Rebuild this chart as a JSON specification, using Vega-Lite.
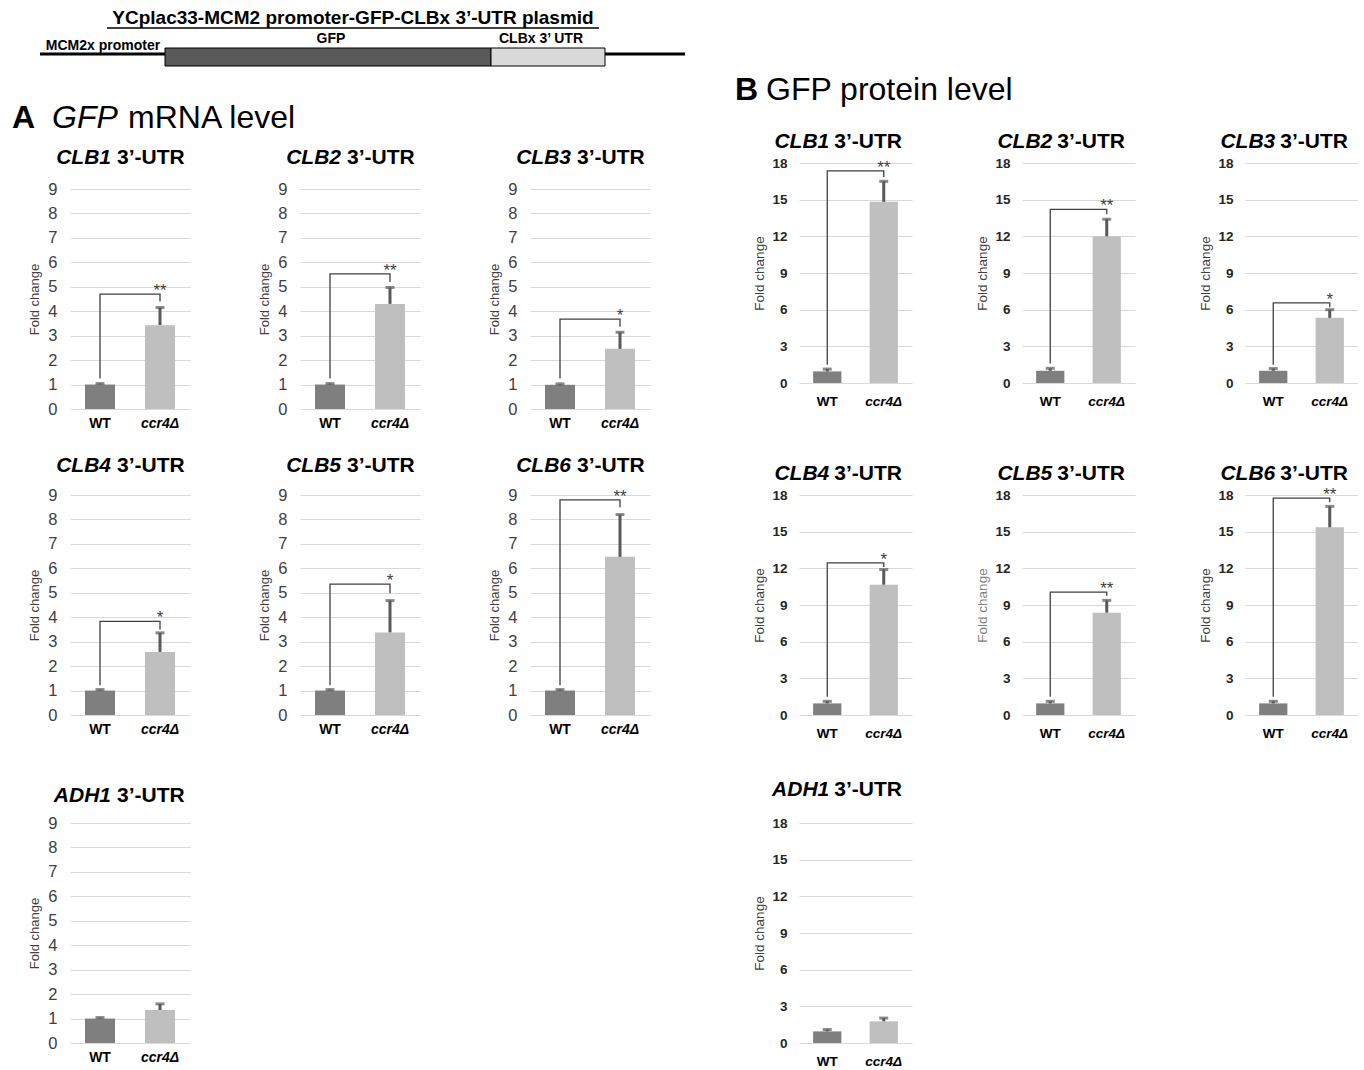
{
  "$schema": "https://vega.github.io/schema/vega-lite/v6.json",
  "padding": {"left": 12, "top": 0, "right": 0, "bottom": 0},
  "background": "white",
  "config": {
    "font": "Liberation Sans",
    "view": {"stroke": null},
    "axis": {"domain": false, "ticks": false},
    "axisX": {"grid": false, "labelAngle": 0, "labelFontWeight": "bold", "labelColor": "#000000", "labelFontSize": 14, "labelPadding": 7},
    "axisY": {"grid": true, "gridColor": "#d9d9d9", "gridWidth": 1, "titleFontWeight": "normal", "titleColor": "#404040", "labelColor": "#404040", "labelFontSize": 16.5, "labelPadding": 13, "titleFontSize": 13, "titlePadding": 6, "tickCount": 30, "labelOverlap": false, "format": "d"},
    "rule": {"color": "#595959", "strokeWidth": 3},
    "tick": {"color": "#595959", "thickness": 3, "size": 9},
    "line": {"color": "#404040", "strokeWidth": 1.3}
  },
  "columns": 6,
  "spacing": {"row": 86, "column": 110},
  "bounds": "flush",
  "concat": [
    {
      "width": 120,
      "height": 77,
      "data": {"values": [
        {"kind": "backbone", "start": 0, "end": 645},
        {"kind": "box", "part": "GFP", "start": 125, "end": 451, "mid": 291},
        {"kind": "box", "part": "CLBx 3’ UTR", "start": 451, "end": 565, "mid": 501},
        {"kind": "promoter", "part": "MCM2x promoter", "start": 0, "end": 125, "mid": 63},
        {"kind": "plasmid", "name": "YCplac33-MCM2 promoter-GFP-CLBx 3’-UTR plasmid"},
        {"kind": "header", "lead": "A", "gene": "GFP", "rest": "mRNA level"}
      ]},
      "layer": [
        {"transform": [{"filter": "datum.kind === 'backbone'"}],
         "mark": {"type": "rule", "color": "#000000", "strokeWidth": 3},
         "encoding": {
           "x": {"field": "start", "type": "quantitative", "scale": {"domain": [30, 150], "nice": false, "zero": false}, "axis": null},
           "x2": {"field": "end"},
           "y": {"datum": 54, "type": "quantitative", "scale": {"domain": [0, 77], "reverse": true, "nice": false, "zero": false}, "axis": null}}},
        {"transform": [{"filter": "datum.kind === 'box'"}],
         "mark": {"type": "rect", "stroke": "#000000", "strokeWidth": 1},
         "encoding": {
           "x": {"field": "start", "type": "quantitative"},
           "x2": {"field": "end"},
           "y": {"datum": 48, "type": "quantitative"},
           "y2": {"datum": 66},
           "fill": {"condition": {"test": "datum.part === 'GFP'", "value": "#595959"}, "value": "#d9d9d9"}}},
        {"transform": [{"filter": "datum.kind === 'box'"}],
         "mark": {"type": "text", "fontSize": 14, "fontWeight": "bold", "color": "#000000", "baseline": "middle"},
         "encoding": {"x": {"field": "mid", "type": "quantitative"}, "y": {"datum": 39, "type": "quantitative"}, "text": {"field": "part"}}},
        {"transform": [{"filter": "datum.kind === 'promoter'"}],
         "mark": {"type": "text", "fontSize": 14, "fontWeight": "bold", "color": "#000000", "baseline": "middle"},
         "encoding": {"x": {"field": "mid", "type": "quantitative"}, "y": {"datum": 46, "type": "quantitative"}, "text": {"field": "part"}}},
        {"transform": [{"filter": "datum.kind === 'plasmid'"}],
         "mark": {"type": "text", "fontSize": 19, "fontWeight": "bold", "color": "#000000", "baseline": "middle"},
         "encoding": {"x": {"datum": 313, "type": "quantitative"}, "y": {"datum": 18, "type": "quantitative"}, "text": {"field": "name"}}},
        {"transform": [{"filter": "datum.kind === 'plasmid'"}],
         "mark": {"type": "rule", "color": "#000000", "strokeWidth": 1.5},
         "encoding": {"x": {"datum": 67, "type": "quantitative"}, "x2": {"datum": 559}, "y": {"datum": 28, "type": "quantitative"}}},
        {"transform": [{"filter": "datum.kind === 'header'"}],
         "mark": {"type": "text", "fontSize": 32, "fontWeight": "bold", "align": "left", "baseline": "middle", "color": "#000000"},
         "encoding": {"x": {"datum": -28, "type": "quantitative"}, "y": {"datum": 118, "type": "quantitative"}, "text": {"field": "lead"}}},
        {"transform": [{"filter": "datum.kind === 'header'"}],
         "mark": {"type": "text", "fontSize": 32, "fontStyle": "italic", "align": "left", "baseline": "middle", "color": "#000000"},
         "encoding": {"x": {"datum": 12, "type": "quantitative"}, "y": {"datum": 118, "type": "quantitative"}, "text": {"field": "gene"}}},
        {"transform": [{"filter": "datum.kind === 'header'"}],
         "mark": {"type": "text", "fontSize": 32, "align": "left", "baseline": "middle", "color": "#000000"},
         "encoding": {"x": {"datum": 88, "type": "quantitative"}, "y": {"datum": 118, "type": "quantitative"}, "text": {"field": "rest"}}}
      ]
    },
    {"width": 120, "height": 10, "data": {"values": []}, "mark": "point"},
    {"width": 159, "height": 10, "data": {"values": []}, "mark": "point"},
    {
      "width": 113,
      "height": 77,
      "data": {"values": [{"kind": "header", "lead": "B", "rest": "GFP protein level"}]},
      "layer": [
        {"mark": {"type": "text", "fontSize": 32, "fontWeight": "bold", "align": "left", "baseline": "middle", "color": "#000000"},
         "encoding": {
           "x": {"datum": -64, "type": "quantitative", "scale": {"domain": [0, 113], "nice": false, "zero": false}, "axis": null},
           "y": {"datum": 90, "type": "quantitative", "scale": {"domain": [0, 77], "reverse": true, "nice": false, "zero": false}, "axis": null},
           "text": {"field": "lead"}}},
        {"mark": {"type": "text", "fontSize": 32, "align": "left", "baseline": "middle", "color": "#000000"},
         "encoding": {"x": {"datum": -33, "type": "quantitative"}, "y": {"datum": 90, "type": "quantitative"}, "text": {"field": "rest"}}}
      ]
    },
    {"width": 113, "height": 10, "data": {"values": []}, "mark": "point"},
    {"width": 113, "height": 10, "data": {"values": []}, "mark": "point"},

    {
      "width": 120, "height": 246,
      "data": {"values": [
        {"kind": "bar", "sample": "WT", "fold": 1.0, "upper": 1.04},
        {"kind": "bar", "sample": "ccr4Δ", "fold": 3.43, "upper": 4.15},
        {"kind": "sig", "step": 1, "sample": "WT", "y": 1.25},
        {"kind": "sig", "step": 2, "sample": "WT", "y": 4.7},
        {"kind": "sig", "step": 3, "sample": "ccr4Δ", "y": 4.7},
        {"kind": "sig", "step": 4, "sample": "ccr4Δ", "y": 4.4},
        {"kind": "star", "sample": "ccr4Δ", "y": 4.7, "label": "**"},
        {"kind": "title", "gene": "CLB1", "utr": "3’-UTR"}
      ]},
      "layer": [
        {"transform": [{"filter": "datum.kind === 'bar'"}], "mark": "bar",
         "encoding": {
           "x": {"field": "sample", "type": "nominal", "title": null, "scale": {"domain": ["WT", "ccr4Δ"], "paddingInner": 0.5, "paddingOuter": 0.25}, "axis": {"labelFontStyle": {"condition": {"test": "datum.value === 'ccr4Δ'", "value": "italic"}, "value": "normal"}}},
           "y": {"field": "fold", "type": "quantitative", "title": "Fold change", "scale": {"domain": [0, 10.064], "nice": false}, "axis": {"values": [0, 1, 2, 3, 4, 5, 6, 7, 8, 9], "tickCount": 30, "format": "d", "titleY": 136}},
           "color": {"condition": {"test": "datum.sample === 'WT'", "value": "#7f7f7f"}, "value": "#bfbfbf"}}},
        {"transform": [{"filter": "datum.kind === 'bar'"}], "mark": "rule",
         "encoding": {"x": {"field": "sample", "type": "nominal", "title": null}, "y": {"field": "fold", "type": "quantitative", "title": "Fold change"}, "y2": {"field": "upper"}}},
        {"transform": [{"filter": "datum.kind === 'bar'"}], "mark": {"type": "tick", "orient": "horizontal"},
         "encoding": {"x": {"field": "sample", "type": "nominal", "title": null}, "y": {"field": "upper", "type": "quantitative", "title": "Fold change"}}},
        {"transform": [{"filter": "datum.kind === 'sig'"}], "mark": "line",
         "encoding": {"x": {"field": "sample", "type": "nominal", "title": null}, "y": {"field": "y", "type": "quantitative", "title": "Fold change"}, "order": {"field": "step", "type": "quantitative"}}},
        {"transform": [{"filter": "datum.kind === 'star'"}], "mark": {"type": "text", "color": "#404040", "fontSize": 17, "baseline": "alphabetic", "dy": 2},
         "encoding": {"x": {"field": "sample", "type": "nominal", "title": null}, "y": {"field": "y", "type": "quantitative", "title": "Fold change"}, "text": {"field": "label"}}},
        {"transform": [{"filter": "datum.kind === 'title'"}], "mark": {"type": "text", "color": "#000000", "fontSize": 21, "fontWeight": "bold", "fontStyle": "italic", "align": "right", "baseline": "middle", "dx": 11},
         "encoding": {"x": {"datum": "WT", "type": "nominal"}, "y": {"datum": 10.27, "type": "quantitative"}, "text": {"field": "gene"}}},
        {"transform": [{"filter": "datum.kind === 'title'"}], "mark": {"type": "text", "color": "#000000", "fontSize": 21, "fontWeight": "bold", "align": "left", "baseline": "middle", "dx": 17},
         "encoding": {"x": {"datum": "WT", "type": "nominal"}, "y": {"datum": 10.27, "type": "quantitative"}, "text": {"field": "utr"}}}
      ]
    },
    {
      "width": 120, "height": 246,
      "data": {"values": [
        {"kind": "bar", "sample": "WT", "fold": 1.0, "upper": 1.04},
        {"kind": "bar", "sample": "ccr4Δ", "fold": 4.3, "upper": 4.97},
        {"kind": "sig", "step": 1, "sample": "WT", "y": 1.25},
        {"kind": "sig", "step": 2, "sample": "WT", "y": 5.53},
        {"kind": "sig", "step": 3, "sample": "ccr4Δ", "y": 5.53},
        {"kind": "sig", "step": 4, "sample": "ccr4Δ", "y": 5.2},
        {"kind": "star", "sample": "ccr4Δ", "y": 5.53, "label": "**"},
        {"kind": "title", "gene": "CLB2", "utr": "3’-UTR"}
      ]},
      "layer": [
        {"transform": [{"filter": "datum.kind === 'bar'"}], "mark": "bar",
         "encoding": {
           "x": {"field": "sample", "type": "nominal", "title": null, "scale": {"domain": ["WT", "ccr4Δ"], "paddingInner": 0.5, "paddingOuter": 0.25}, "axis": {"labelFontStyle": {"condition": {"test": "datum.value === 'ccr4Δ'", "value": "italic"}, "value": "normal"}}},
           "y": {"field": "fold", "type": "quantitative", "title": "Fold change", "scale": {"domain": [0, 10.064], "nice": false}, "axis": {"values": [0, 1, 2, 3, 4, 5, 6, 7, 8, 9], "tickCount": 30, "format": "d", "titleY": 136}},
           "color": {"condition": {"test": "datum.sample === 'WT'", "value": "#7f7f7f"}, "value": "#bfbfbf"}}},
        {"transform": [{"filter": "datum.kind === 'bar'"}], "mark": "rule",
         "encoding": {"x": {"field": "sample", "type": "nominal", "title": null}, "y": {"field": "fold", "type": "quantitative", "title": "Fold change"}, "y2": {"field": "upper"}}},
        {"transform": [{"filter": "datum.kind === 'bar'"}], "mark": {"type": "tick", "orient": "horizontal"},
         "encoding": {"x": {"field": "sample", "type": "nominal", "title": null}, "y": {"field": "upper", "type": "quantitative", "title": "Fold change"}}},
        {"transform": [{"filter": "datum.kind === 'sig'"}], "mark": "line",
         "encoding": {"x": {"field": "sample", "type": "nominal", "title": null}, "y": {"field": "y", "type": "quantitative", "title": "Fold change"}, "order": {"field": "step", "type": "quantitative"}}},
        {"transform": [{"filter": "datum.kind === 'star'"}], "mark": {"type": "text", "color": "#404040", "fontSize": 17, "baseline": "alphabetic", "dy": 2},
         "encoding": {"x": {"field": "sample", "type": "nominal", "title": null}, "y": {"field": "y", "type": "quantitative", "title": "Fold change"}, "text": {"field": "label"}}},
        {"transform": [{"filter": "datum.kind === 'title'"}], "mark": {"type": "text", "color": "#000000", "fontSize": 21, "fontWeight": "bold", "fontStyle": "italic", "align": "right", "baseline": "middle", "dx": 11},
         "encoding": {"x": {"datum": "WT", "type": "nominal"}, "y": {"datum": 10.27, "type": "quantitative"}, "text": {"field": "gene"}}},
        {"transform": [{"filter": "datum.kind === 'title'"}], "mark": {"type": "text", "color": "#000000", "fontSize": 21, "fontWeight": "bold", "align": "left", "baseline": "middle", "dx": 17},
         "encoding": {"x": {"datum": "WT", "type": "nominal"}, "y": {"datum": 10.27, "type": "quantitative"}, "text": {"field": "utr"}}}
      ]
    },
    {
      "width": 120, "height": 246,
      "data": {"values": [
        {"kind": "bar", "sample": "WT", "fold": 0.99, "upper": 1.03},
        {"kind": "bar", "sample": "ccr4Δ", "fold": 2.46, "upper": 3.14},
        {"kind": "sig", "step": 1, "sample": "WT", "y": 1.25},
        {"kind": "sig", "step": 2, "sample": "WT", "y": 3.68},
        {"kind": "sig", "step": 3, "sample": "ccr4Δ", "y": 3.68},
        {"kind": "sig", "step": 4, "sample": "ccr4Δ", "y": 3.37},
        {"kind": "star", "sample": "ccr4Δ", "y": 3.68, "label": "*"},
        {"kind": "title", "gene": "CLB3", "utr": "3’-UTR"}
      ]},
      "layer": [
        {"transform": [{"filter": "datum.kind === 'bar'"}], "mark": "bar",
         "encoding": {
           "x": {"field": "sample", "type": "nominal", "title": null, "scale": {"domain": ["WT", "ccr4Δ"], "paddingInner": 0.5, "paddingOuter": 0.25}, "axis": {"labelFontStyle": {"condition": {"test": "datum.value === 'ccr4Δ'", "value": "italic"}, "value": "normal"}}},
           "y": {"field": "fold", "type": "quantitative", "title": "Fold change", "scale": {"domain": [0, 10.064], "nice": false}, "axis": {"values": [0, 1, 2, 3, 4, 5, 6, 7, 8, 9], "tickCount": 30, "format": "d", "titleY": 136}},
           "color": {"condition": {"test": "datum.sample === 'WT'", "value": "#7f7f7f"}, "value": "#bfbfbf"}}},
        {"transform": [{"filter": "datum.kind === 'bar'"}], "mark": "rule",
         "encoding": {"x": {"field": "sample", "type": "nominal", "title": null}, "y": {"field": "fold", "type": "quantitative", "title": "Fold change"}, "y2": {"field": "upper"}}},
        {"transform": [{"filter": "datum.kind === 'bar'"}], "mark": {"type": "tick", "orient": "horizontal"},
         "encoding": {"x": {"field": "sample", "type": "nominal", "title": null}, "y": {"field": "upper", "type": "quantitative", "title": "Fold change"}}},
        {"transform": [{"filter": "datum.kind === 'sig'"}], "mark": "line",
         "encoding": {"x": {"field": "sample", "type": "nominal", "title": null}, "y": {"field": "y", "type": "quantitative", "title": "Fold change"}, "order": {"field": "step", "type": "quantitative"}}},
        {"transform": [{"filter": "datum.kind === 'star'"}], "mark": {"type": "text", "color": "#404040", "fontSize": 17, "baseline": "alphabetic", "dy": 2},
         "encoding": {"x": {"field": "sample", "type": "nominal", "title": null}, "y": {"field": "y", "type": "quantitative", "title": "Fold change"}, "text": {"field": "label"}}},
        {"transform": [{"filter": "datum.kind === 'title'"}], "mark": {"type": "text", "color": "#000000", "fontSize": 21, "fontWeight": "bold", "fontStyle": "italic", "align": "right", "baseline": "middle", "dx": 11},
         "encoding": {"x": {"datum": "WT", "type": "nominal"}, "y": {"datum": 10.27, "type": "quantitative"}, "text": {"field": "gene"}}},
        {"transform": [{"filter": "datum.kind === 'title'"}], "mark": {"type": "text", "color": "#000000", "fontSize": 21, "fontWeight": "bold", "align": "left", "baseline": "middle", "dx": 17},
         "encoding": {"x": {"datum": "WT", "type": "nominal"}, "y": {"datum": 10.27, "type": "quantitative"}, "text": {"field": "utr"}}}
      ]
    },
    {
      "width": 113, "height": 220,
      "data": {"values": [
        {"kind": "bar", "sample": "WT", "fold": 0.95, "upper": 1.14},
        {"kind": "bar", "sample": "ccr4Δ", "fold": 14.82, "upper": 16.5},
        {"kind": "sig", "step": 1, "sample": "WT", "y": 1.5},
        {"kind": "sig", "step": 2, "sample": "WT", "y": 17.35},
        {"kind": "sig", "step": 3, "sample": "ccr4Δ", "y": 17.35},
        {"kind": "sig", "step": 4, "sample": "ccr4Δ", "y": 16.85},
        {"kind": "star", "sample": "ccr4Δ", "y": 17.35, "label": "**"},
        {"kind": "title", "gene": "CLB1", "utr": "3’-UTR"}
      ]},
      "layer": [
        {"transform": [{"filter": "datum.kind === 'bar'"}], "mark": "bar",
         "encoding": {
           "x": {"field": "sample", "type": "nominal", "title": null, "scale": {"domain": ["WT", "ccr4Δ"], "paddingInner": 0.5, "paddingOuter": 0.25}, "axis": {"labelFontSize": 13.5, "labelPadding": 11, "labelFontStyle": {"condition": {"test": "datum.value === 'ccr4Δ'", "value": "italic"}, "value": "normal"}}},
           "y": {"field": "fold", "type": "quantitative", "title": "Fold change", "scale": {"domain": [0, 18], "nice": false}, "axis": {"values": [0, 3, 6, 9, 12, 15, 18], "tickCount": 30, "format": "d", "labelFontSize": 13.5, "labelFontWeight": "bold", "labelColor": "#262626", "labelPadding": 12, "titleFontSize": 13.5, "titlePadding": 5}},
           "color": {"condition": {"test": "datum.sample === 'WT'", "value": "#7f7f7f"}, "value": "#bfbfbf"}}},
        {"transform": [{"filter": "datum.kind === 'bar'"}], "mark": "rule",
         "encoding": {"x": {"field": "sample", "type": "nominal", "title": null}, "y": {"field": "fold", "type": "quantitative", "title": "Fold change"}, "y2": {"field": "upper"}}},
        {"transform": [{"filter": "datum.kind === 'bar'"}], "mark": {"type": "tick", "orient": "horizontal"},
         "encoding": {"x": {"field": "sample", "type": "nominal", "title": null}, "y": {"field": "upper", "type": "quantitative", "title": "Fold change"}}},
        {"transform": [{"filter": "datum.kind === 'sig'"}], "mark": "line",
         "encoding": {"x": {"field": "sample", "type": "nominal", "title": null}, "y": {"field": "y", "type": "quantitative", "title": "Fold change"}, "order": {"field": "step", "type": "quantitative"}}},
        {"transform": [{"filter": "datum.kind === 'star'"}], "mark": {"type": "text", "color": "#404040", "fontSize": 17, "baseline": "alphabetic", "dy": 2},
         "encoding": {"x": {"field": "sample", "type": "nominal", "title": null}, "y": {"field": "y", "type": "quantitative", "title": "Fold change"}, "text": {"field": "label"}}},
        {"transform": [{"filter": "datum.kind === 'title'"}], "mark": {"type": "text", "color": "#000000", "fontSize": 21, "fontWeight": "bold", "fontStyle": "italic", "align": "right", "baseline": "middle", "dx": 2},
         "encoding": {"x": {"datum": "WT", "type": "nominal"}, "y": {"datum": 19.75, "type": "quantitative"}, "text": {"field": "gene"}}},
        {"transform": [{"filter": "datum.kind === 'title'"}], "mark": {"type": "text", "color": "#000000", "fontSize": 21, "fontWeight": "bold", "align": "left", "baseline": "middle", "dx": 7},
         "encoding": {"x": {"datum": "WT", "type": "nominal"}, "y": {"datum": 19.75, "type": "quantitative"}, "text": {"field": "utr"}}}
      ]
    },
    {
      "width": 113, "height": 220,
      "data": {"values": [
        {"kind": "bar", "sample": "WT", "fold": 1.0, "upper": 1.2},
        {"kind": "bar", "sample": "ccr4Δ", "fold": 12.0, "upper": 13.4},
        {"kind": "sig", "step": 1, "sample": "WT", "y": 1.6},
        {"kind": "sig", "step": 2, "sample": "WT", "y": 14.2},
        {"kind": "sig", "step": 3, "sample": "ccr4Δ", "y": 14.2},
        {"kind": "sig", "step": 4, "sample": "ccr4Δ", "y": 13.8},
        {"kind": "star", "sample": "ccr4Δ", "y": 14.2, "label": "**"},
        {"kind": "title", "gene": "CLB2", "utr": "3’-UTR"}
      ]},
      "layer": [
        {"transform": [{"filter": "datum.kind === 'bar'"}], "mark": "bar",
         "encoding": {
           "x": {"field": "sample", "type": "nominal", "title": null, "scale": {"domain": ["WT", "ccr4Δ"], "paddingInner": 0.5, "paddingOuter": 0.25}, "axis": {"labelFontSize": 13.5, "labelPadding": 11, "labelFontStyle": {"condition": {"test": "datum.value === 'ccr4Δ'", "value": "italic"}, "value": "normal"}}},
           "y": {"field": "fold", "type": "quantitative", "title": "Fold change", "scale": {"domain": [0, 18], "nice": false}, "axis": {"values": [0, 3, 6, 9, 12, 15, 18], "tickCount": 30, "format": "d", "labelFontSize": 13.5, "labelFontWeight": "bold", "labelColor": "#262626", "labelPadding": 12, "titleFontSize": 13.5, "titlePadding": 5}},
           "color": {"condition": {"test": "datum.sample === 'WT'", "value": "#7f7f7f"}, "value": "#bfbfbf"}}},
        {"transform": [{"filter": "datum.kind === 'bar'"}], "mark": "rule",
         "encoding": {"x": {"field": "sample", "type": "nominal", "title": null}, "y": {"field": "fold", "type": "quantitative", "title": "Fold change"}, "y2": {"field": "upper"}}},
        {"transform": [{"filter": "datum.kind === 'bar'"}], "mark": {"type": "tick", "orient": "horizontal"},
         "encoding": {"x": {"field": "sample", "type": "nominal", "title": null}, "y": {"field": "upper", "type": "quantitative", "title": "Fold change"}}},
        {"transform": [{"filter": "datum.kind === 'sig'"}], "mark": "line",
         "encoding": {"x": {"field": "sample", "type": "nominal", "title": null}, "y": {"field": "y", "type": "quantitative", "title": "Fold change"}, "order": {"field": "step", "type": "quantitative"}}},
        {"transform": [{"filter": "datum.kind === 'star'"}], "mark": {"type": "text", "color": "#404040", "fontSize": 17, "baseline": "alphabetic", "dy": 2},
         "encoding": {"x": {"field": "sample", "type": "nominal", "title": null}, "y": {"field": "y", "type": "quantitative", "title": "Fold change"}, "text": {"field": "label"}}},
        {"transform": [{"filter": "datum.kind === 'title'"}], "mark": {"type": "text", "color": "#000000", "fontSize": 21, "fontWeight": "bold", "fontStyle": "italic", "align": "right", "baseline": "middle", "dx": 2},
         "encoding": {"x": {"datum": "WT", "type": "nominal"}, "y": {"datum": 19.75, "type": "quantitative"}, "text": {"field": "gene"}}},
        {"transform": [{"filter": "datum.kind === 'title'"}], "mark": {"type": "text", "color": "#000000", "fontSize": 21, "fontWeight": "bold", "align": "left", "baseline": "middle", "dx": 7},
         "encoding": {"x": {"datum": "WT", "type": "nominal"}, "y": {"datum": 19.75, "type": "quantitative"}, "text": {"field": "utr"}}}
      ]
    },
    {
      "width": 113, "height": 220,
      "data": {"values": [
        {"kind": "bar", "sample": "WT", "fold": 1.0, "upper": 1.18},
        {"kind": "bar", "sample": "ccr4Δ", "fold": 5.33, "upper": 6.0},
        {"kind": "sig", "step": 1, "sample": "WT", "y": 1.5},
        {"kind": "sig", "step": 2, "sample": "WT", "y": 6.55},
        {"kind": "sig", "step": 3, "sample": "ccr4Δ", "y": 6.55},
        {"kind": "sig", "step": 4, "sample": "ccr4Δ", "y": 6.2},
        {"kind": "star", "sample": "ccr4Δ", "y": 6.55, "label": "*"},
        {"kind": "title", "gene": "CLB3", "utr": "3’-UTR"}
      ]},
      "layer": [
        {"transform": [{"filter": "datum.kind === 'bar'"}], "mark": "bar",
         "encoding": {
           "x": {"field": "sample", "type": "nominal", "title": null, "scale": {"domain": ["WT", "ccr4Δ"], "paddingInner": 0.5, "paddingOuter": 0.25}, "axis": {"labelFontSize": 13.5, "labelPadding": 11, "labelFontStyle": {"condition": {"test": "datum.value === 'ccr4Δ'", "value": "italic"}, "value": "normal"}}},
           "y": {"field": "fold", "type": "quantitative", "title": "Fold change", "scale": {"domain": [0, 18], "nice": false}, "axis": {"values": [0, 3, 6, 9, 12, 15, 18], "tickCount": 30, "format": "d", "labelFontSize": 13.5, "labelFontWeight": "bold", "labelColor": "#262626", "labelPadding": 12, "titleFontSize": 13.5, "titlePadding": 5}},
           "color": {"condition": {"test": "datum.sample === 'WT'", "value": "#7f7f7f"}, "value": "#bfbfbf"}}},
        {"transform": [{"filter": "datum.kind === 'bar'"}], "mark": "rule",
         "encoding": {"x": {"field": "sample", "type": "nominal", "title": null}, "y": {"field": "fold", "type": "quantitative", "title": "Fold change"}, "y2": {"field": "upper"}}},
        {"transform": [{"filter": "datum.kind === 'bar'"}], "mark": {"type": "tick", "orient": "horizontal"},
         "encoding": {"x": {"field": "sample", "type": "nominal", "title": null}, "y": {"field": "upper", "type": "quantitative", "title": "Fold change"}}},
        {"transform": [{"filter": "datum.kind === 'sig'"}], "mark": "line",
         "encoding": {"x": {"field": "sample", "type": "nominal", "title": null}, "y": {"field": "y", "type": "quantitative", "title": "Fold change"}, "order": {"field": "step", "type": "quantitative"}}},
        {"transform": [{"filter": "datum.kind === 'star'"}], "mark": {"type": "text", "color": "#404040", "fontSize": 17, "baseline": "alphabetic", "dy": 2},
         "encoding": {"x": {"field": "sample", "type": "nominal", "title": null}, "y": {"field": "y", "type": "quantitative", "title": "Fold change"}, "text": {"field": "label"}}},
        {"transform": [{"filter": "datum.kind === 'title'"}], "mark": {"type": "text", "color": "#000000", "fontSize": 21, "fontWeight": "bold", "fontStyle": "italic", "align": "right", "baseline": "middle", "dx": 2},
         "encoding": {"x": {"datum": "WT", "type": "nominal"}, "y": {"datum": 19.75, "type": "quantitative"}, "text": {"field": "gene"}}},
        {"transform": [{"filter": "datum.kind === 'title'"}], "mark": {"type": "text", "color": "#000000", "fontSize": 21, "fontWeight": "bold", "align": "left", "baseline": "middle", "dx": 7},
         "encoding": {"x": {"datum": "WT", "type": "nominal"}, "y": {"datum": 19.75, "type": "quantitative"}, "text": {"field": "utr"}}}
      ]
    },

    {
      "width": 120, "height": 220,
      "data": {"values": [
        {"kind": "bar", "sample": "WT", "fold": 1.0, "upper": 1.04},
        {"kind": "bar", "sample": "ccr4Δ", "fold": 2.58, "upper": 3.36},
        {"kind": "sig", "step": 1, "sample": "WT", "y": 1.22},
        {"kind": "sig", "step": 2, "sample": "WT", "y": 3.83},
        {"kind": "sig", "step": 3, "sample": "ccr4Δ", "y": 3.83},
        {"kind": "sig", "step": 4, "sample": "ccr4Δ", "y": 3.5},
        {"kind": "star", "sample": "ccr4Δ", "y": 3.83, "label": "*"},
        {"kind": "title", "gene": "CLB4", "utr": "3’-UTR"}
      ]},
      "layer": [
        {"transform": [{"filter": "datum.kind === 'bar'"}], "mark": "bar",
         "encoding": {
           "x": {"field": "sample", "type": "nominal", "title": null, "scale": {"domain": ["WT", "ccr4Δ"], "paddingInner": 0.5, "paddingOuter": 0.25}, "axis": {"labelFontStyle": {"condition": {"test": "datum.value === 'ccr4Δ'", "value": "italic"}, "value": "normal"}}},
           "y": {"field": "fold", "type": "quantitative", "title": "Fold change", "scale": {"domain": [0, 9], "nice": false}, "axis": {"values": [0, 1, 2, 3, 4, 5, 6, 7, 8, 9], "tickCount": 30, "format": "d"}},
           "color": {"condition": {"test": "datum.sample === 'WT'", "value": "#7f7f7f"}, "value": "#bfbfbf"}}},
        {"transform": [{"filter": "datum.kind === 'bar'"}], "mark": "rule",
         "encoding": {"x": {"field": "sample", "type": "nominal", "title": null}, "y": {"field": "fold", "type": "quantitative", "title": "Fold change"}, "y2": {"field": "upper"}}},
        {"transform": [{"filter": "datum.kind === 'bar'"}], "mark": {"type": "tick", "orient": "horizontal"},
         "encoding": {"x": {"field": "sample", "type": "nominal", "title": null}, "y": {"field": "upper", "type": "quantitative", "title": "Fold change"}}},
        {"transform": [{"filter": "datum.kind === 'sig'"}], "mark": "line",
         "encoding": {"x": {"field": "sample", "type": "nominal", "title": null}, "y": {"field": "y", "type": "quantitative", "title": "Fold change"}, "order": {"field": "step", "type": "quantitative"}}},
        {"transform": [{"filter": "datum.kind === 'star'"}], "mark": {"type": "text", "color": "#404040", "fontSize": 17, "baseline": "alphabetic", "dy": 2},
         "encoding": {"x": {"field": "sample", "type": "nominal", "title": null}, "y": {"field": "y", "type": "quantitative", "title": "Fold change"}, "text": {"field": "label"}}},
        {"transform": [{"filter": "datum.kind === 'title'"}], "mark": {"type": "text", "color": "#000000", "fontSize": 21, "fontWeight": "bold", "fontStyle": "italic", "align": "right", "baseline": "middle", "dx": 11},
         "encoding": {"x": {"datum": "WT", "type": "nominal"}, "y": {"datum": 10.2, "type": "quantitative"}, "text": {"field": "gene"}}},
        {"transform": [{"filter": "datum.kind === 'title'"}], "mark": {"type": "text", "color": "#000000", "fontSize": 21, "fontWeight": "bold", "align": "left", "baseline": "middle", "dx": 17},
         "encoding": {"x": {"datum": "WT", "type": "nominal"}, "y": {"datum": 10.2, "type": "quantitative"}, "text": {"field": "utr"}}}
      ]
    },
    {
      "width": 120, "height": 220,
      "data": {"values": [
        {"kind": "bar", "sample": "WT", "fold": 1.0, "upper": 1.04},
        {"kind": "bar", "sample": "ccr4Δ", "fold": 3.38, "upper": 4.68},
        {"kind": "sig", "step": 1, "sample": "WT", "y": 1.22},
        {"kind": "sig", "step": 2, "sample": "WT", "y": 5.35},
        {"kind": "sig", "step": 3, "sample": "ccr4Δ", "y": 5.35},
        {"kind": "sig", "step": 4, "sample": "ccr4Δ", "y": 4.98},
        {"kind": "star", "sample": "ccr4Δ", "y": 5.35, "label": "*"},
        {"kind": "title", "gene": "CLB5", "utr": "3’-UTR"}
      ]},
      "layer": [
        {"transform": [{"filter": "datum.kind === 'bar'"}], "mark": "bar",
         "encoding": {
           "x": {"field": "sample", "type": "nominal", "title": null, "scale": {"domain": ["WT", "ccr4Δ"], "paddingInner": 0.5, "paddingOuter": 0.25}, "axis": {"labelFontStyle": {"condition": {"test": "datum.value === 'ccr4Δ'", "value": "italic"}, "value": "normal"}}},
           "y": {"field": "fold", "type": "quantitative", "title": "Fold change", "scale": {"domain": [0, 9], "nice": false}, "axis": {"values": [0, 1, 2, 3, 4, 5, 6, 7, 8, 9], "tickCount": 30, "format": "d"}},
           "color": {"condition": {"test": "datum.sample === 'WT'", "value": "#7f7f7f"}, "value": "#bfbfbf"}}},
        {"transform": [{"filter": "datum.kind === 'bar'"}], "mark": "rule",
         "encoding": {"x": {"field": "sample", "type": "nominal", "title": null}, "y": {"field": "fold", "type": "quantitative", "title": "Fold change"}, "y2": {"field": "upper"}}},
        {"transform": [{"filter": "datum.kind === 'bar'"}], "mark": {"type": "tick", "orient": "horizontal"},
         "encoding": {"x": {"field": "sample", "type": "nominal", "title": null}, "y": {"field": "upper", "type": "quantitative", "title": "Fold change"}}},
        {"transform": [{"filter": "datum.kind === 'sig'"}], "mark": "line",
         "encoding": {"x": {"field": "sample", "type": "nominal", "title": null}, "y": {"field": "y", "type": "quantitative", "title": "Fold change"}, "order": {"field": "step", "type": "quantitative"}}},
        {"transform": [{"filter": "datum.kind === 'star'"}], "mark": {"type": "text", "color": "#404040", "fontSize": 17, "baseline": "alphabetic", "dy": 2},
         "encoding": {"x": {"field": "sample", "type": "nominal", "title": null}, "y": {"field": "y", "type": "quantitative", "title": "Fold change"}, "text": {"field": "label"}}},
        {"transform": [{"filter": "datum.kind === 'title'"}], "mark": {"type": "text", "color": "#000000", "fontSize": 21, "fontWeight": "bold", "fontStyle": "italic", "align": "right", "baseline": "middle", "dx": 11},
         "encoding": {"x": {"datum": "WT", "type": "nominal"}, "y": {"datum": 10.2, "type": "quantitative"}, "text": {"field": "gene"}}},
        {"transform": [{"filter": "datum.kind === 'title'"}], "mark": {"type": "text", "color": "#000000", "fontSize": 21, "fontWeight": "bold", "align": "left", "baseline": "middle", "dx": 17},
         "encoding": {"x": {"datum": "WT", "type": "nominal"}, "y": {"datum": 10.2, "type": "quantitative"}, "text": {"field": "utr"}}}
      ]
    },
    {
      "width": 120, "height": 220,
      "data": {"values": [
        {"kind": "bar", "sample": "WT", "fold": 1.0, "upper": 1.04},
        {"kind": "bar", "sample": "ccr4Δ", "fold": 6.47, "upper": 8.2},
        {"kind": "sig", "step": 1, "sample": "WT", "y": 1.22},
        {"kind": "sig", "step": 2, "sample": "WT", "y": 8.8},
        {"kind": "sig", "step": 3, "sample": "ccr4Δ", "y": 8.8},
        {"kind": "sig", "step": 4, "sample": "ccr4Δ", "y": 8.5},
        {"kind": "star", "sample": "ccr4Δ", "y": 8.8, "label": "**"},
        {"kind": "title", "gene": "CLB6", "utr": "3’-UTR"}
      ]},
      "layer": [
        {"transform": [{"filter": "datum.kind === 'bar'"}], "mark": "bar",
         "encoding": {
           "x": {"field": "sample", "type": "nominal", "title": null, "scale": {"domain": ["WT", "ccr4Δ"], "paddingInner": 0.5, "paddingOuter": 0.25}, "axis": {"labelFontStyle": {"condition": {"test": "datum.value === 'ccr4Δ'", "value": "italic"}, "value": "normal"}}},
           "y": {"field": "fold", "type": "quantitative", "title": "Fold change", "scale": {"domain": [0, 9], "nice": false}, "axis": {"values": [0, 1, 2, 3, 4, 5, 6, 7, 8, 9], "tickCount": 30, "format": "d"}},
           "color": {"condition": {"test": "datum.sample === 'WT'", "value": "#7f7f7f"}, "value": "#bfbfbf"}}},
        {"transform": [{"filter": "datum.kind === 'bar'"}], "mark": "rule",
         "encoding": {"x": {"field": "sample", "type": "nominal", "title": null}, "y": {"field": "fold", "type": "quantitative", "title": "Fold change"}, "y2": {"field": "upper"}}},
        {"transform": [{"filter": "datum.kind === 'bar'"}], "mark": {"type": "tick", "orient": "horizontal"},
         "encoding": {"x": {"field": "sample", "type": "nominal", "title": null}, "y": {"field": "upper", "type": "quantitative", "title": "Fold change"}}},
        {"transform": [{"filter": "datum.kind === 'sig'"}], "mark": "line",
         "encoding": {"x": {"field": "sample", "type": "nominal", "title": null}, "y": {"field": "y", "type": "quantitative", "title": "Fold change"}, "order": {"field": "step", "type": "quantitative"}}},
        {"transform": [{"filter": "datum.kind === 'star'"}], "mark": {"type": "text", "color": "#404040", "fontSize": 17, "baseline": "alphabetic", "dy": 2},
         "encoding": {"x": {"field": "sample", "type": "nominal", "title": null}, "y": {"field": "y", "type": "quantitative", "title": "Fold change"}, "text": {"field": "label"}}},
        {"transform": [{"filter": "datum.kind === 'title'"}], "mark": {"type": "text", "color": "#000000", "fontSize": 21, "fontWeight": "bold", "fontStyle": "italic", "align": "right", "baseline": "middle", "dx": 11},
         "encoding": {"x": {"datum": "WT", "type": "nominal"}, "y": {"datum": 10.2, "type": "quantitative"}, "text": {"field": "gene"}}},
        {"transform": [{"filter": "datum.kind === 'title'"}], "mark": {"type": "text", "color": "#000000", "fontSize": 21, "fontWeight": "bold", "align": "left", "baseline": "middle", "dx": 17},
         "encoding": {"x": {"datum": "WT", "type": "nominal"}, "y": {"datum": 10.2, "type": "quantitative"}, "text": {"field": "utr"}}}
      ]
    },
    {
      "width": 113, "height": 220,
      "data": {"values": [
        {"kind": "bar", "sample": "WT", "fold": 0.95, "upper": 1.12},
        {"kind": "bar", "sample": "ccr4Δ", "fold": 10.66, "upper": 11.9},
        {"kind": "sig", "step": 1, "sample": "WT", "y": 1.5},
        {"kind": "sig", "step": 2, "sample": "WT", "y": 12.45},
        {"kind": "sig", "step": 3, "sample": "ccr4Δ", "y": 12.45},
        {"kind": "sig", "step": 4, "sample": "ccr4Δ", "y": 12.1},
        {"kind": "star", "sample": "ccr4Δ", "y": 12.45, "label": "*"},
        {"kind": "title", "gene": "CLB4", "utr": "3’-UTR"}
      ]},
      "layer": [
        {"transform": [{"filter": "datum.kind === 'bar'"}], "mark": "bar",
         "encoding": {
           "x": {"field": "sample", "type": "nominal", "title": null, "scale": {"domain": ["WT", "ccr4Δ"], "paddingInner": 0.5, "paddingOuter": 0.25}, "axis": {"labelFontSize": 13.5, "labelPadding": 11, "labelFontStyle": {"condition": {"test": "datum.value === 'ccr4Δ'", "value": "italic"}, "value": "normal"}}},
           "y": {"field": "fold", "type": "quantitative", "title": "Fold change", "scale": {"domain": [0, 18], "nice": false}, "axis": {"values": [0, 3, 6, 9, 12, 15, 18], "tickCount": 30, "format": "d", "labelFontSize": 13.5, "labelFontWeight": "bold", "labelColor": "#262626", "labelPadding": 12, "titleFontSize": 13.5, "titlePadding": 5}},
           "color": {"condition": {"test": "datum.sample === 'WT'", "value": "#7f7f7f"}, "value": "#bfbfbf"}}},
        {"transform": [{"filter": "datum.kind === 'bar'"}], "mark": "rule",
         "encoding": {"x": {"field": "sample", "type": "nominal", "title": null}, "y": {"field": "fold", "type": "quantitative", "title": "Fold change"}, "y2": {"field": "upper"}}},
        {"transform": [{"filter": "datum.kind === 'bar'"}], "mark": {"type": "tick", "orient": "horizontal"},
         "encoding": {"x": {"field": "sample", "type": "nominal", "title": null}, "y": {"field": "upper", "type": "quantitative", "title": "Fold change"}}},
        {"transform": [{"filter": "datum.kind === 'sig'"}], "mark": "line",
         "encoding": {"x": {"field": "sample", "type": "nominal", "title": null}, "y": {"field": "y", "type": "quantitative", "title": "Fold change"}, "order": {"field": "step", "type": "quantitative"}}},
        {"transform": [{"filter": "datum.kind === 'star'"}], "mark": {"type": "text", "color": "#404040", "fontSize": 17, "baseline": "alphabetic", "dy": 2},
         "encoding": {"x": {"field": "sample", "type": "nominal", "title": null}, "y": {"field": "y", "type": "quantitative", "title": "Fold change"}, "text": {"field": "label"}}},
        {"transform": [{"filter": "datum.kind === 'title'"}], "mark": {"type": "text", "color": "#000000", "fontSize": 21, "fontWeight": "bold", "fontStyle": "italic", "align": "right", "baseline": "middle", "dx": 2},
         "encoding": {"x": {"datum": "WT", "type": "nominal"}, "y": {"datum": 19.75, "type": "quantitative"}, "text": {"field": "gene"}}},
        {"transform": [{"filter": "datum.kind === 'title'"}], "mark": {"type": "text", "color": "#000000", "fontSize": 21, "fontWeight": "bold", "align": "left", "baseline": "middle", "dx": 7},
         "encoding": {"x": {"datum": "WT", "type": "nominal"}, "y": {"datum": 19.75, "type": "quantitative"}, "text": {"field": "utr"}}}
      ]
    },
    {
      "width": 113, "height": 220,
      "data": {"values": [
        {"kind": "bar", "sample": "WT", "fold": 0.95, "upper": 1.12},
        {"kind": "bar", "sample": "ccr4Δ", "fold": 8.37, "upper": 9.38},
        {"kind": "sig", "step": 1, "sample": "WT", "y": 1.5},
        {"kind": "sig", "step": 2, "sample": "WT", "y": 10.06},
        {"kind": "sig", "step": 3, "sample": "ccr4Δ", "y": 10.06},
        {"kind": "sig", "step": 4, "sample": "ccr4Δ", "y": 9.75},
        {"kind": "star", "sample": "ccr4Δ", "y": 10.06, "label": "**"},
        {"kind": "title", "gene": "CLB5", "utr": "3’-UTR"}
      ]},
      "layer": [
        {"transform": [{"filter": "datum.kind === 'bar'"}], "mark": "bar",
         "encoding": {
           "x": {"field": "sample", "type": "nominal", "title": null, "scale": {"domain": ["WT", "ccr4Δ"], "paddingInner": 0.5, "paddingOuter": 0.25}, "axis": {"labelFontSize": 13.5, "labelPadding": 11, "labelFontStyle": {"condition": {"test": "datum.value === 'ccr4Δ'", "value": "italic"}, "value": "normal"}}},
           "y": {"field": "fold", "type": "quantitative", "title": "Fold change", "scale": {"domain": [0, 18], "nice": false}, "axis": {"values": [0, 3, 6, 9, 12, 15, 18], "tickCount": 30, "format": "d", "labelFontSize": 13.5, "labelFontWeight": "bold", "labelColor": "#262626", "labelPadding": 12, "titleFontSize": 13.5, "titlePadding": 5, "titleColor": "#808080"}},
           "color": {"condition": {"test": "datum.sample === 'WT'", "value": "#7f7f7f"}, "value": "#bfbfbf"}}},
        {"transform": [{"filter": "datum.kind === 'bar'"}], "mark": "rule",
         "encoding": {"x": {"field": "sample", "type": "nominal", "title": null}, "y": {"field": "fold", "type": "quantitative", "title": "Fold change"}, "y2": {"field": "upper"}}},
        {"transform": [{"filter": "datum.kind === 'bar'"}], "mark": {"type": "tick", "orient": "horizontal"},
         "encoding": {"x": {"field": "sample", "type": "nominal", "title": null}, "y": {"field": "upper", "type": "quantitative", "title": "Fold change"}}},
        {"transform": [{"filter": "datum.kind === 'sig'"}], "mark": "line",
         "encoding": {"x": {"field": "sample", "type": "nominal", "title": null}, "y": {"field": "y", "type": "quantitative", "title": "Fold change"}, "order": {"field": "step", "type": "quantitative"}}},
        {"transform": [{"filter": "datum.kind === 'star'"}], "mark": {"type": "text", "color": "#404040", "fontSize": 17, "baseline": "alphabetic", "dy": 2},
         "encoding": {"x": {"field": "sample", "type": "nominal", "title": null}, "y": {"field": "y", "type": "quantitative", "title": "Fold change"}, "text": {"field": "label"}}},
        {"transform": [{"filter": "datum.kind === 'title'"}], "mark": {"type": "text", "color": "#000000", "fontSize": 21, "fontWeight": "bold", "fontStyle": "italic", "align": "right", "baseline": "middle", "dx": 2},
         "encoding": {"x": {"datum": "WT", "type": "nominal"}, "y": {"datum": 19.75, "type": "quantitative"}, "text": {"field": "gene"}}},
        {"transform": [{"filter": "datum.kind === 'title'"}], "mark": {"type": "text", "color": "#000000", "fontSize": 21, "fontWeight": "bold", "align": "left", "baseline": "middle", "dx": 7},
         "encoding": {"x": {"datum": "WT", "type": "nominal"}, "y": {"datum": 19.75, "type": "quantitative"}, "text": {"field": "utr"}}}
      ]
    },
    {
      "width": 113, "height": 220,
      "data": {"values": [
        {"kind": "bar", "sample": "WT", "fold": 0.95, "upper": 1.12},
        {"kind": "bar", "sample": "ccr4Δ", "fold": 15.36, "upper": 17.07},
        {"kind": "sig", "step": 1, "sample": "WT", "y": 1.5},
        {"kind": "sig", "step": 2, "sample": "WT", "y": 17.75},
        {"kind": "sig", "step": 3, "sample": "ccr4Δ", "y": 17.75},
        {"kind": "sig", "step": 4, "sample": "ccr4Δ", "y": 17.4},
        {"kind": "star", "sample": "ccr4Δ", "y": 17.75, "label": "**"},
        {"kind": "title", "gene": "CLB6", "utr": "3’-UTR"}
      ]},
      "layer": [
        {"transform": [{"filter": "datum.kind === 'bar'"}], "mark": "bar",
         "encoding": {
           "x": {"field": "sample", "type": "nominal", "title": null, "scale": {"domain": ["WT", "ccr4Δ"], "paddingInner": 0.5, "paddingOuter": 0.25}, "axis": {"labelFontSize": 13.5, "labelPadding": 11, "labelFontStyle": {"condition": {"test": "datum.value === 'ccr4Δ'", "value": "italic"}, "value": "normal"}}},
           "y": {"field": "fold", "type": "quantitative", "title": "Fold change", "scale": {"domain": [0, 18], "nice": false}, "axis": {"values": [0, 3, 6, 9, 12, 15, 18], "tickCount": 30, "format": "d", "labelFontSize": 13.5, "labelFontWeight": "bold", "labelColor": "#262626", "labelPadding": 12, "titleFontSize": 13.5, "titlePadding": 5}},
           "color": {"condition": {"test": "datum.sample === 'WT'", "value": "#7f7f7f"}, "value": "#bfbfbf"}}},
        {"transform": [{"filter": "datum.kind === 'bar'"}], "mark": "rule",
         "encoding": {"x": {"field": "sample", "type": "nominal", "title": null}, "y": {"field": "fold", "type": "quantitative", "title": "Fold change"}, "y2": {"field": "upper"}}},
        {"transform": [{"filter": "datum.kind === 'bar'"}], "mark": {"type": "tick", "orient": "horizontal"},
         "encoding": {"x": {"field": "sample", "type": "nominal", "title": null}, "y": {"field": "upper", "type": "quantitative", "title": "Fold change"}}},
        {"transform": [{"filter": "datum.kind === 'sig'"}], "mark": "line",
         "encoding": {"x": {"field": "sample", "type": "nominal", "title": null}, "y": {"field": "y", "type": "quantitative", "title": "Fold change"}, "order": {"field": "step", "type": "quantitative"}}},
        {"transform": [{"filter": "datum.kind === 'star'"}], "mark": {"type": "text", "color": "#404040", "fontSize": 17, "baseline": "alphabetic", "dy": 2},
         "encoding": {"x": {"field": "sample", "type": "nominal", "title": null}, "y": {"field": "y", "type": "quantitative", "title": "Fold change"}, "text": {"field": "label"}}},
        {"transform": [{"filter": "datum.kind === 'title'"}], "mark": {"type": "text", "color": "#000000", "fontSize": 21, "fontWeight": "bold", "fontStyle": "italic", "align": "right", "baseline": "middle", "dx": 2},
         "encoding": {"x": {"datum": "WT", "type": "nominal"}, "y": {"datum": 19.75, "type": "quantitative"}, "text": {"field": "gene"}}},
        {"transform": [{"filter": "datum.kind === 'title'"}], "mark": {"type": "text", "color": "#000000", "fontSize": 21, "fontWeight": "bold", "align": "left", "baseline": "middle", "dx": 7},
         "encoding": {"x": {"datum": "WT", "type": "nominal"}, "y": {"datum": 19.75, "type": "quantitative"}, "text": {"field": "utr"}}}
      ]
    },

    {
      "width": 120, "height": 242,
      "data": {"values": [
        {"kind": "bar", "sample": "WT", "fold": 1.0, "upper": 1.04},
        {"kind": "bar", "sample": "ccr4Δ", "fold": 1.35, "upper": 1.6},
        {"kind": "title", "gene": "ADH1", "utr": "3’-UTR"}
      ]},
      "layer": [
        {"transform": [{"filter": "datum.kind === 'bar'"}], "mark": "bar",
         "encoding": {
           "x": {"field": "sample", "type": "nominal", "title": null, "scale": {"domain": ["WT", "ccr4Δ"], "paddingInner": 0.5, "paddingOuter": 0.25}, "axis": {"labelFontStyle": {"condition": {"test": "datum.value === 'ccr4Δ'", "value": "italic"}, "value": "normal"}}},
           "y": {"field": "fold", "type": "quantitative", "title": "Fold change", "scale": {"domain": [0, 9.9], "nice": false}, "axis": {"values": [0, 1, 2, 3, 4, 5, 6, 7, 8, 9], "tickCount": 30, "format": "d", "titleY": 132}},
           "color": {"condition": {"test": "datum.sample === 'WT'", "value": "#7f7f7f"}, "value": "#bfbfbf"}}},
        {"transform": [{"filter": "datum.kind === 'bar'"}], "mark": "rule",
         "encoding": {"x": {"field": "sample", "type": "nominal", "title": null}, "y": {"field": "fold", "type": "quantitative", "title": "Fold change"}, "y2": {"field": "upper"}}},
        {"transform": [{"filter": "datum.kind === 'bar'"}], "mark": {"type": "tick", "orient": "horizontal"},
         "encoding": {"x": {"field": "sample", "type": "nominal", "title": null}, "y": {"field": "upper", "type": "quantitative", "title": "Fold change"}}},
        {"transform": [{"filter": "datum.kind === 'title'"}], "mark": {"type": "text", "color": "#000000", "fontSize": 21, "fontWeight": "bold", "fontStyle": "italic", "align": "right", "baseline": "middle", "dx": 11},
         "encoding": {"x": {"datum": "WT", "type": "nominal"}, "y": {"datum": 10.1, "type": "quantitative"}, "text": {"field": "gene"}}},
        {"transform": [{"filter": "datum.kind === 'title'"}], "mark": {"type": "text", "color": "#000000", "fontSize": 21, "fontWeight": "bold", "align": "left", "baseline": "middle", "dx": 17},
         "encoding": {"x": {"datum": "WT", "type": "nominal"}, "y": {"datum": 10.1, "type": "quantitative"}, "text": {"field": "utr"}}}
      ]
    },
    {"width": 120, "height": 10, "data": {"values": []}, "mark": "point"},
    {"width": 120, "height": 10, "data": {"values": []}, "mark": "point"},
    {
      "width": 113, "height": 242,
      "data": {"values": [
        {"kind": "bar", "sample": "WT", "fold": 0.95, "upper": 1.1},
        {"kind": "bar", "sample": "ccr4Δ", "fold": 1.77, "upper": 2.04},
        {"kind": "title", "gene": "ADH1", "utr": "3’-UTR"}
      ]},
      "layer": [
        {"transform": [{"filter": "datum.kind === 'bar'"}], "mark": "bar",
         "encoding": {
           "x": {"field": "sample", "type": "nominal", "title": null, "scale": {"domain": ["WT", "ccr4Δ"], "paddingInner": 0.5, "paddingOuter": 0.25}, "axis": {"labelFontSize": 13.5, "labelPadding": 11, "labelFontStyle": {"condition": {"test": "datum.value === 'ccr4Δ'", "value": "italic"}, "value": "normal"}}},
           "y": {"field": "fold", "type": "quantitative", "title": "Fold change", "scale": {"domain": [0, 19.8], "nice": false}, "axis": {"values": [0, 3, 6, 9, 12, 15, 18], "tickCount": 30, "format": "d", "labelFontSize": 13.5, "labelFontWeight": "bold", "labelColor": "#262626", "labelPadding": 12, "titleFontSize": 13.5, "titlePadding": 5, "titleY": 132}},
           "color": {"condition": {"test": "datum.sample === 'WT'", "value": "#7f7f7f"}, "value": "#bfbfbf"}}},
        {"transform": [{"filter": "datum.kind === 'bar'"}], "mark": "rule",
         "encoding": {"x": {"field": "sample", "type": "nominal", "title": null}, "y": {"field": "fold", "type": "quantitative", "title": "Fold change"}, "y2": {"field": "upper"}}},
        {"transform": [{"filter": "datum.kind === 'bar'"}], "mark": {"type": "tick", "orient": "horizontal"},
         "encoding": {"x": {"field": "sample", "type": "nominal", "title": null}, "y": {"field": "upper", "type": "quantitative", "title": "Fold change"}}},
        {"transform": [{"filter": "datum.kind === 'title'"}], "mark": {"type": "text", "color": "#000000", "fontSize": 21, "fontWeight": "bold", "fontStyle": "italic", "align": "right", "baseline": "middle", "dx": 2},
         "encoding": {"x": {"datum": "WT", "type": "nominal"}, "y": {"datum": 20.67, "type": "quantitative"}, "text": {"field": "gene"}}},
        {"transform": [{"filter": "datum.kind === 'title'"}], "mark": {"type": "text", "color": "#000000", "fontSize": 21, "fontWeight": "bold", "align": "left", "baseline": "middle", "dx": 7},
         "encoding": {"x": {"datum": "WT", "type": "nominal"}, "y": {"datum": 20.67, "type": "quantitative"}, "text": {"field": "utr"}}}
      ]
    }
  ]
}
